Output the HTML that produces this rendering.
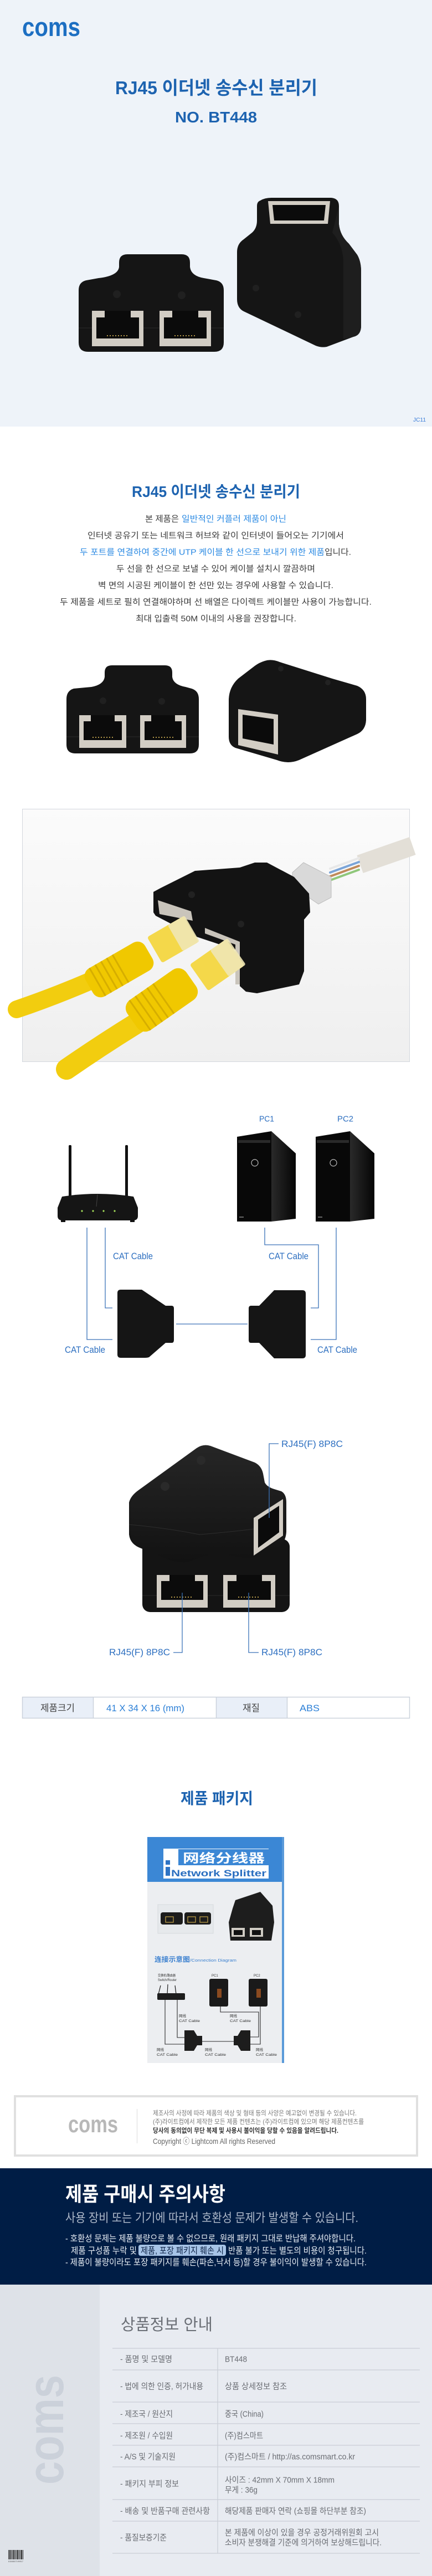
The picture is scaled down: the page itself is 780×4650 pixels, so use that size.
<!DOCTYPE html>
<html><head><meta charset="utf-8">
<style>
html,body{margin:0;padding:0;background:#fff;}
body{width:780px;height:4650px;overflow:hidden;}
svg{display:block;}
.k{font-family:'Liberation Sans','Noto Sans CJK KR',sans-serif;}
.c{font-family:'Liberation Sans','Noto Sans CJK SC',sans-serif;}
</style></head>
<body>
<svg width="780" height="4650" viewBox="0 0 780 4650" xmlns="http://www.w3.org/2000/svg">
<defs>
<linearGradient id="photoBg" x1="0" y1="0" x2="0" y2="1"><stop offset="0" stop-color="#fbfbfb"/><stop offset="1" stop-color="#efefef"/></linearGradient>
<linearGradient id="side" x1="0" y1="0" x2="1" y2="0"><stop offset="0" stop-color="#2a2a2a"/><stop offset="1" stop-color="#050505"/></linearGradient>
<linearGradient id="topU" x1="0" y1="0" x2="0" y2="1"><stop offset="0" stop-color="#262626"/><stop offset="1" stop-color="#121212"/></linearGradient>
</defs>

<!-- ===== SECTION 1 header ===== -->
<rect x="0" y="0" width="780" height="770" fill="#eef3f9"/>
<text class="k" x="40" y="65" font-size="47" font-weight="bold" fill="#1d6fc2" textLength="105" lengthAdjust="spacingAndGlyphs">coms</text>
<text class="k" x="208" y="170" font-size="33" font-weight="bold" fill="#1d63b0" textLength="365" lengthAdjust="spacingAndGlyphs">RJ45 이더넷 송수신 분리기</text>
<text class="k" x="316" y="221" font-size="28" font-weight="bold" fill="#1d63b0" textLength="148" lengthAdjust="spacingAndGlyphs">NO. BT448</text>

<!-- left product -->
<path d="M230,459 L328,459 Q343,459 343,474 L343,482 Q345,498 368,502 L390,506 Q404,509 404,524 L404,618 Q404,635 387,635 L159,635 Q142,635 142,618 L142,524 Q142,509 156,506 L178,502 Q213,498 215,482 L215,474 Q215,459 230,459 Z" fill="#151515"/>
<line x1="142" y1="592" x2="404" y2="592" stroke="#2c2c2c" stroke-width="1"/>
<circle cx="211" cy="531" r="7" fill="#202020"/><circle cx="328" cy="533" r="7" fill="#202020"/>
<g><rect x="166" y="561" width="93" height="64" fill="#d2cdc4"/><rect x="174" y="573" width="77" height="38" fill="#0b0b0b"/><rect x="189" y="561" width="47" height="13" fill="#0b0b0b"/><line x1="193" y1="606" x2="232" y2="606" stroke="#b49848" stroke-width="2" stroke-dasharray="2,3"/></g>
<g><rect x="288" y="561" width="93" height="64" fill="#d2cdc4"/><rect x="296" y="573" width="77" height="38" fill="#0b0b0b"/><rect x="311" y="561" width="47" height="13" fill="#0b0b0b"/><line x1="315" y1="606" x2="354" y2="606" stroke="#b49848" stroke-width="2" stroke-dasharray="2,3"/></g>
<!-- right product -->
<path d="M470,362 Q478,357 490,357 L598,357 Q612,358 612,372 L612,405 Q614,425 630,440 L645,460 Q652,472 652,490 L652,588 Q652,605 638,608 L590,626 Q580,628 570,624 L440,562 Q428,556 428,540 L428,455 Q428,440 440,432 L455,420 Q464,412 464,398 L464,372 Q464,364 470,362 Z" fill="#151515"/>
<path d="M612,372 L612,405 Q614,425 630,440 L645,460 Q652,472 652,490 L652,588 Q652,605 638,608 L620,612 L620,470 Q618,440 600,420 Z" fill="#1e1e1e"/>
<polygon points="484,363 596,363 592,404 488,404" fill="#d2cdc4"/>
<polygon points="492,370 588,370 585,398 495,398" fill="#0b0b0b"/>
<circle cx="462" cy="520" r="6" fill="#202020"/><circle cx="538" cy="568" r="6" fill="#202020"/>
<text class="k" x="746" y="761" font-size="10" fill="#3b7dd8" textLength="23" lengthAdjust="spacingAndGlyphs">JC11</text>

<!-- ===== SECTION 2 ===== -->
<text class="k" x="238" y="897" font-size="28" font-weight="bold" fill="#1d63b0" textLength="304" lengthAdjust="spacingAndGlyphs">RJ45 이더넷 송수신 분리기</text>
<g class="k" font-size="15">
<text x="262" y="941.5" fill="#3a3a3a" textLength="61" lengthAdjust="spacingAndGlyphs">본 제품은</text>
<text x="328" y="941.5" fill="#2b8ae3" textLength="189" lengthAdjust="spacingAndGlyphs">일반적인 커플러 제품이 아닌</text>
<text x="158" y="971.5" fill="#3a3a3a" textLength="463" lengthAdjust="spacingAndGlyphs">인터넷 공유기 또는 네트워크 허브와 같이 인터넷이 들어오는 기기에서</text>
<text x="144" y="1001.5" fill="#2b8ae3" textLength="442" lengthAdjust="spacingAndGlyphs">두 포트를 연결하여 중간에 UTP 케이블 한 선으로 보내기 위한 제품</text>
<text x="586" y="1001.5" fill="#3a3a3a" textLength="48" lengthAdjust="spacingAndGlyphs">입니다.</text>
<text x="210" y="1031.5" fill="#3a3a3a" textLength="359" lengthAdjust="spacingAndGlyphs">두 선을 한 선으로 보낼 수 있어 케이블 설치시 깔끔하며</text>
<text x="177" y="1061.5" fill="#3a3a3a" textLength="425" lengthAdjust="spacingAndGlyphs">벽 면의 시공된 케이블이 한 선만 있는 경우에 사용할 수 있습니다.</text>
<text x="108" y="1091.5" fill="#3a3a3a" textLength="563" lengthAdjust="spacingAndGlyphs">두 제품을 세트로 필히 연결해야하며 선 배열은 다이렉트 케이블만 사용이 가능합니다.</text>
<text x="245" y="1121.5" fill="#3a3a3a" textLength="290" lengthAdjust="spacingAndGlyphs">최대 입출력 50M 이내의 사용을 권장합니다.</text>
</g>
<!-- products photo 2 -->
<path d="M202,1201 L298,1201 Q311,1201 311,1214 L311,1222 Q313,1236 335,1240 L346,1243 Q359,1247 359,1262 L359,1344 Q359,1360 343,1360 L136,1360 Q120,1360 120,1344 L120,1262 Q120,1247 133,1243 L165,1240 Q187,1236 189,1222 L189,1214 Q189,1201 202,1201 Z" fill="#151515"/>
<line x1="120" y1="1330" x2="359" y2="1330" stroke="#2c2c2c"/>
<circle cx="186" cy="1265" r="6" fill="#202020"/><circle cx="292" cy="1266" r="6" fill="#202020"/>
<g><rect x="143" y="1291" width="85" height="59" fill="#d2cdc4"/><rect x="151" y="1302" width="69" height="34" fill="#0b0b0b"/><rect x="164" y="1291" width="43" height="12" fill="#0b0b0b"/><line x1="167" y1="1331" x2="204" y2="1331" stroke="#b49848" stroke-width="2" stroke-dasharray="2,3"/></g>
<g><rect x="253" y="1291" width="83" height="59" fill="#d2cdc4"/><rect x="261" y="1302" width="67" height="34" fill="#0b0b0b"/><rect x="273" y="1291" width="43" height="12" fill="#0b0b0b"/><line x1="276" y1="1331" x2="313" y2="1331" stroke="#b49848" stroke-width="2" stroke-dasharray="2,3"/></g>
<path d="M478,1193 Q490,1189 505,1195 L600,1225 L645,1238 Q661,1245 661,1262 L661,1300 Q660,1318 645,1325 L540,1372 Q520,1380 500,1372 L425,1350 Q413,1345 413,1330 L413,1262 Q414,1240 430,1225 L460,1202 Q468,1196 478,1193 Z" fill="#151515"/>
<polygon points="430,1280 502,1290 502,1362 430,1345" fill="#d2cdc4"/>
<polygon points="438,1290 494,1298 494,1344 438,1333" fill="#0b0b0b"/>
<circle cx="507" cy="1207" r="5" fill="#222"/><circle cx="592" cy="1232" r="5" fill="#222"/>

<!-- ===== cable photo ===== -->
<rect x="40.5" y="1460.5" width="699" height="456" fill="url(#photoBg)" stroke="#d3d7dd" stroke-width="1"/>
<line x1="650" y1="1560" x2="745" y2="1527" stroke="#e3dfd7" stroke-width="34" stroke-linecap="butt"/>
<g stroke-width="4" stroke-linecap="round">
<line x1="596" y1="1575" x2="648" y2="1556" stroke="#7aa4d8"/>
<line x1="596" y1="1582" x2="648" y2="1563" stroke="#c08a5a"/>
<line x1="596" y1="1589" x2="648" y2="1570" stroke="#8fc77a"/>
<line x1="596" y1="1568" x2="648" y2="1549" stroke="#e8e8e8"/>
</g>
<polygon points="528,1575 548,1557 598,1583 598,1620 575,1632 528,1600" fill="#d9d9d9" stroke="#bdbdbd"/>
<polygon points="277,1610 290,1603 352,1572 433,1566 460,1557 482,1557 531,1583 558,1613 560,1647 549,1660 549,1753 540,1777 464,1793 444,1790 433,1780 433,1717 352,1690 281,1653 277,1647" fill="#131313"/>
<polygon points="285,1625 345,1645 348,1662 288,1650" fill="#c9c4bb"/>
<polygon points="370,1675 433,1700 433,1777 425,1777 425,1705 370,1685" fill="#c9c4bb"/>
<circle cx="346" cy="1615" r="6" fill="#222"/><circle cx="435" cy="1668" r="6" fill="#222"/>
<!-- cable A -->
<path d="M30,1822 Q95,1800 165,1770" stroke="#f2cd0f" stroke-width="32" fill="none" stroke-linecap="round"/>
<g transform="translate(215,1750) rotate(-30)"><rect x="-62" y="-29" width="124" height="58" rx="16" fill="#f0c800"/>
<g stroke="#d6ae00" stroke-width="3"><line x1="-45" y1="-29" x2="-45" y2="29"/><line x1="-33" y1="-29" x2="-33" y2="29"/><line x1="-21" y1="-29" x2="-21" y2="29"/><line x1="-9" y1="-29" x2="-9" y2="29"/><line x1="3" y1="-29" x2="3" y2="29"/></g></g>
<g transform="translate(312,1696) rotate(-30)"><rect x="-38" y="-27" width="76" height="54" rx="4" fill="#f4d84a"/><rect x="5" y="-27" width="35" height="54" rx="3" fill="#efe7b5" opacity="0.9"/></g>
<!-- cable B -->
<path d="M120,1930 Q185,1885 250,1845" stroke="#f2cd0f" stroke-width="38" fill="none" stroke-linecap="round"/>
<g transform="translate(292,1805) rotate(-35)"><rect x="-65" y="-33" width="130" height="66" rx="18" fill="#f0c800"/>
<g stroke="#d6ae00" stroke-width="3"><line x1="-48" y1="-33" x2="-48" y2="33"/><line x1="-35" y1="-33" x2="-35" y2="33"/><line x1="-22" y1="-33" x2="-22" y2="33"/><line x1="-9" y1="-33" x2="-9" y2="33"/><line x1="4" y1="-33" x2="4" y2="33"/></g></g>
<g transform="translate(392,1742) rotate(-35)"><rect x="-40" y="-29" width="80" height="58" rx="4" fill="#f4d84a"/><rect x="5" y="-29" width="38" height="58" rx="3" fill="#efe7b5" opacity="0.9"/></g>

<!-- ===== diagram ===== -->
<text class="k" x="468" y="2024.5" font-size="15" fill="#2d6fc0" textLength="27" lengthAdjust="spacingAndGlyphs">PC1</text>
<text class="k" x="609" y="2024.5" font-size="15" fill="#2d6fc0" textLength="29" lengthAdjust="spacingAndGlyphs">PC2</text>
<!-- router -->
<rect x="124" y="2067" width="5" height="95" rx="2" fill="#111"/>
<rect x="226" y="2067" width="5" height="95" rx="2" fill="#111"/>
<path d="M112,2160 Q176,2150 241,2160 L249,2180 L249,2195 Q249,2203 240,2203 L113,2203 Q104,2203 104,2195 L104,2180 Z" fill="#151515"/>
<line x1="176" y1="2156" x2="174" y2="2178" stroke="#444" stroke-width="1"/>
<g fill="#a6e05a"><circle cx="148" cy="2186" r="1.6"/><circle cx="168" cy="2186" r="1.6"/><circle cx="187" cy="2186" r="1.6"/><circle cx="207" cy="2186" r="1.6"/></g>
<rect x="110" y="2202" width="8" height="4" fill="#111"/><rect x="235" y="2202" width="8" height="4" fill="#111"/>
<!-- PCs -->
<g id="pc1">
<polygon points="428,2052 490,2042 490,2205 428,2205" fill="#080808"/>
<polygon points="490,2042 534,2082 534,2200 490,2205" fill="url(#side)"/>
<rect x="430" y="2058" width="58" height="5" fill="#2a2a2a"/>
<circle cx="460" cy="2099" r="6" fill="none" stroke="#bdbdbd" stroke-width="1.2"/>
<rect x="432" y="2196" width="8" height="2" fill="#666"/>
</g>
<g transform="translate(142,0)">
<polygon points="428,2052 490,2042 490,2205 428,2205" fill="#080808"/>
<polygon points="490,2042 534,2082 534,2200 490,2205" fill="url(#side)"/>
<rect x="430" y="2058" width="58" height="5" fill="#2a2a2a"/>
<circle cx="460" cy="2099" r="6" fill="none" stroke="#bdbdbd" stroke-width="1.2"/>
<rect x="432" y="2196" width="8" height="2" fill="#666"/>
</g>
<g fill="none" stroke="#3a72b8" stroke-width="1.3">
<path d="M157,2216 V2418 H203"/>
<path d="M190,2216 V2361 H203"/>
<path d="M478,2216 V2247 H575 V2361 H561"/>
<path d="M607,2216 V2418 H561"/>
<path d="M318,2390 H447"/>
</g>
<path d="M218,2328 H256 L299,2357 H310 Q314,2357 314,2362 V2419 Q314,2424 310,2424 H299 L269,2450 Q266,2451 262,2451 H218 Q212,2451 212,2445 V2334 Q212,2328 218,2328 Z" fill="#151515"/>
<path d="M546,2329 H495 L468,2357 H453 Q449,2357 449,2362 V2419 Q449,2424 453,2424 H468 L495,2452 H546 Q552,2452 552,2446 V2335 Q552,2329 546,2329 Z" fill="#151515"/>
<g class="k" font-size="17" fill="#2d6fc0">
<text x="204" y="2273" textLength="72" lengthAdjust="spacingAndGlyphs">CAT Cable</text>
<text x="485" y="2273" textLength="72" lengthAdjust="spacingAndGlyphs">CAT Cable</text>
<text x="117" y="2442" textLength="73" lengthAdjust="spacingAndGlyphs">CAT Cable</text>
<text x="573" y="2442" textLength="72" lengthAdjust="spacingAndGlyphs">CAT Cable</text>
</g>

<!-- ===== stacked product ===== -->
<rect x="257" y="2778" width="266" height="132" rx="14" fill="#141414"/>
<line x1="257" y1="2880" x2="523" y2="2880" stroke="#2a2a2a"/>
<g><rect x="283" y="2843" width="92" height="59" fill="#d2cdc4"/><rect x="291" y="2854" width="76" height="34" fill="#0b0b0b"/><rect x="306" y="2843" width="46" height="12" fill="#0b0b0b"/><line x1="309" y1="2883" x2="349" y2="2883" stroke="#b49848" stroke-width="2" stroke-dasharray="2,3"/></g>
<g><rect x="403" y="2843" width="94" height="59" fill="#d2cdc4"/><rect x="411" y="2854" width="78" height="34" fill="#0b0b0b"/><rect x="427" y="2843" width="46" height="12" fill="#0b0b0b"/><line x1="430" y1="2883" x2="470" y2="2883" stroke="#b49848" stroke-width="2" stroke-dasharray="2,3"/></g>
<path d="M233,2712 Q236,2700 250,2690 L355,2614 Q367,2606 380,2610 L460,2640 Q472,2646 475,2660 L478,2676 Q482,2684 495,2688 L508,2692 Q517,2697 517,2712 L517,2765 Q516,2785 500,2795 L470,2808 Q455,2814 440,2812 L400,2806 Q380,2805 360,2812 L340,2820 Q320,2822 300,2814 L255,2795 Q235,2788 233,2770 Z" fill="url(#topU)"/>
<path d="M233,2752 Q300,2758 360,2770 Q420,2765 458,2760" stroke="#2e2e2e" fill="none"/>
<circle cx="363" cy="2636" r="8" fill="#2a2a2a"/><circle cx="298" cy="2683" r="8" fill="#2a2a2a"/>
<polygon points="458,2740 511,2706 511,2772 458,2808" fill="#d2cdc4"/>
<polygon points="466,2743 504,2718 504,2766 466,2794" fill="#0b0b0b"/>
<g fill="none" stroke="#3a72b8" stroke-width="1.3">
<path d="M503,2606 H486 V2740"/>
<path d="M313,2983 H329 V2875"/>
<path d="M467,2983 H449 V2875"/>
</g>
<g class="k" font-size="17" fill="#2d6fc0">
<text x="508" y="2612" textLength="111" lengthAdjust="spacingAndGlyphs">RJ45(F) 8P8C</text>
<text x="197" y="2988" textLength="110" lengthAdjust="spacingAndGlyphs">RJ45(F) 8P8C</text>
<text x="472" y="2988" textLength="110" lengthAdjust="spacingAndGlyphs">RJ45(F) 8P8C</text>
</g>

<!-- ===== spec table ===== -->
<rect x="40.5" y="3063.5" width="128" height="38" fill="#e9eff8"/>
<rect x="390.5" y="3063.5" width="128" height="38" fill="#e9eff8"/>
<g fill="none" stroke="#cbd2dc" stroke-width="1.5">
<rect x="40.5" y="3063.5" width="699" height="38"/>
<line x1="168.5" y1="3063" x2="168.5" y2="3102"/>
<line x1="390.5" y1="3063" x2="390.5" y2="3102"/>
<line x1="518.5" y1="3063" x2="518.5" y2="3102"/>
</g>
<g class="k" font-size="17">
<text x="73" y="3089" fill="#444" textLength="62" lengthAdjust="spacingAndGlyphs">제품크기</text>
<text x="192" y="3089" fill="#2b7fd6" textLength="141" lengthAdjust="spacingAndGlyphs">41 X 34 X 16 (mm)</text>
<text x="438" y="3089" fill="#444" textLength="31" lengthAdjust="spacingAndGlyphs">재질</text>
<text x="541" y="3089" fill="#2b7fd6" textLength="36" lengthAdjust="spacingAndGlyphs">ABS</text>
</g>

<text class="k" x="326" y="3256" font-size="28" font-weight="bold" fill="#1d63b0" textLength="131" lengthAdjust="spacingAndGlyphs">제품 패키지</text>

<!-- ===== package ===== -->
<rect x="266" y="3316" width="247" height="408" fill="#eceef1"/>
<rect x="266" y="3316" width="247" height="81" fill="#3b87d5"/>
<rect x="509" y="3316" width="4" height="408" fill="#5a9ad9"/>
<rect x="295" y="3337" width="190" height="54" fill="#ffffff"/>
<rect x="322" y="3338" width="163" height="29" fill="#3b87d5"/>
<text class="c" x="330" y="3362" font-size="22" font-weight="bold" fill="#ffffff" textLength="148" lengthAdjust="spacingAndGlyphs">网络分线器</text>
<rect x="299" y="3358" width="8" height="8" fill="#2f74c4"/>
<rect x="299" y="3370" width="8" height="16" fill="#2f74c4"/>
<text class="k" x="309" y="3387" font-size="17" font-weight="bold" fill="#2b6fc0" textLength="172" lengthAdjust="spacingAndGlyphs">Network Splitter</text>
<rect x="285" y="3438" width="100" height="52" fill="#e6e9ec" stroke="#d6d9dd"/>
<rect x="290" y="3452" width="40" height="22" rx="4" fill="#1c1c1c"/>
<rect x="333" y="3452" width="48" height="22" rx="4" fill="#1c1c1c"/>
<g fill="none" stroke="#c6a64a" stroke-width="1.2"><rect x="299" y="3460" width="14" height="10"/><rect x="339" y="3460" width="14" height="10"/><rect x="361" y="3460" width="14" height="10"/></g>
<path d="M425,3430 L470,3415 L492,3440 L495,3470 L490,3503 L416,3503 L413,3470 L420,3445 Z" fill="#1d1d1d"/>
<rect x="418" y="3480" width="24" height="16" fill="#d0ccc4"/><rect x="451" y="3480" width="24" height="16" fill="#d0ccc4"/>
<rect x="422" y="3484" width="16" height="9" fill="#111"/><rect x="455" y="3484" width="16" height="9" fill="#111"/>
<text class="c" x="279" y="3541" font-size="12" font-weight="bold" fill="#3b80cf" textLength="64" lengthAdjust="spacingAndGlyphs">连接示意图</text>
<text class="k" x="343" y="3541" font-size="7.5" fill="#3b80cf" textLength="84" lengthAdjust="spacingAndGlyphs">/Connection Diagram</text>
<g class="c" font-size="6" fill="#333">
<text x="285" y="3568" textLength="32" lengthAdjust="spacingAndGlyphs">交换机/路由器</text>
<text x="285" y="3576" textLength="34" lengthAdjust="spacingAndGlyphs">Switch/Router</text>
<text x="382" y="3568">PC1</text>
<text x="458" y="3568">PC2</text>
</g>
<g stroke="#1a1a1a" stroke-width="1.2"><line x1="286" y1="3600" x2="290" y2="3584"/><line x1="302" y1="3600" x2="303" y2="3582"/><line x1="318" y1="3600" x2="316" y2="3584"/></g>
<rect x="284" y="3598" width="50" height="12" rx="2" fill="#1d1d1d"/>
<rect x="378" y="3572" width="34" height="50" rx="3" fill="#1a1a1a"/><rect x="392" y="3590" width="8" height="16" fill="#8a4a20"/>
<rect x="449" y="3572" width="34" height="50" rx="3" fill="#1a1a1a"/><rect x="463" y="3590" width="8" height="16" fill="#8a4a20"/>
<g fill="none" stroke="#2a2a2a" stroke-width="1.1">
<path d="M298,3610 V3690 H333"/><path d="M320,3610 V3678 H333"/>
<path d="M398,3622 V3632 H467 V3677 H452"/><path d="M470,3622 V3690 H452"/>
<path d="M365,3685 H422"/>
</g>
<path d="M333,3665 H350 L356,3675 H365 V3692 H356 L350,3702 H333 Z" fill="#1d1d1d"/>
<path d="M452,3665 H435 L429,3675 H422 V3692 H429 L435,3702 H452 Z" fill="#1d1d1d"/>
<g class="c" font-size="6.5" fill="#333">
<text x="323" y="3641">网线</text><text x="323" y="3650" textLength="38" lengthAdjust="spacingAndGlyphs">CAT Cable</text>
<text x="415" y="3641">网线</text><text x="415" y="3650" textLength="38" lengthAdjust="spacingAndGlyphs">CAT Cable</text>
<text x="283" y="3702">网线</text><text x="283" y="3711" textLength="38" lengthAdjust="spacingAndGlyphs">CAT Cable</text>
<text x="370" y="3702">网线</text><text x="370" y="3711" textLength="38" lengthAdjust="spacingAndGlyphs">CAT Cable</text>
<text x="462" y="3702">网线</text><text x="462" y="3711" textLength="38" lengthAdjust="spacingAndGlyphs">CAT Cable</text>
</g>

<!-- ===== footer notice box ===== -->
<rect x="27" y="3784" width="726" height="107" fill="#ffffff" stroke="#e0e0e0" stroke-width="4"/>
<text class="k" x="123" y="3849" font-size="43" font-weight="bold" fill="#b8b8b8" textLength="90" lengthAdjust="spacingAndGlyphs">coms</text>
<line x1="247.5" y1="3807" x2="247.5" y2="3869" stroke="#dddddd"/>
<g class="k" font-size="12">
<text x="276" y="3818.5" fill="#7a7a7a" textLength="368" lengthAdjust="spacingAndGlyphs">제조사의 사정에 따라 제품의 색상 및 형태 등의 사양은 예고없이 변경될 수 있습니다.</text>
<text x="276" y="3834" fill="#7a7a7a" textLength="381" lengthAdjust="spacingAndGlyphs">(주)라이트컴에서 제작한 모든 제품 컨텐츠는 (주)라이트컴에 있으며 해당 제품컨텐츠를</text>
<text x="276" y="3850" fill="#333" font-weight="bold" textLength="335" lengthAdjust="spacingAndGlyphs">당사의 동의없이 무단 복제 및 사용시 불이익을 당할 수 있음을 알려드립니다.</text>
<text x="276" y="3870" fill="#666" font-size="14" textLength="221" lengthAdjust="spacingAndGlyphs">Copyright ⓒ Lightcom All rights Reserved</text>
</g>

<!-- ===== navy caution ===== -->
<rect x="0" y="3914" width="780" height="210" fill="#001d45"/>
<text class="k" x="118" y="3973" font-size="36" font-weight="bold" fill="#ffffff" textLength="289" lengthAdjust="spacingAndGlyphs">제품 구매시 주의사항</text>
<text class="k" x="118" y="4011" font-size="22" fill="#aeb8c9" textLength="529" lengthAdjust="spacingAndGlyphs">사용 장비 또는 기기에 따라서 호환성 문제가 발생할 수 있습니다.</text>
<rect x="250" y="4052" width="158" height="20" rx="4" fill="#a7c4e7"/>
<g class="k" font-size="16" fill="#e8edf4">
<text x="118" y="4046" textLength="524" lengthAdjust="spacingAndGlyphs">- 호환성 문제는 제품 불량으로 볼 수 없으므로, 원래 패키지 그대로 반납해 주셔야합니다.</text>
<text x="128" y="4068" textLength="119" lengthAdjust="spacingAndGlyphs">제품 구성품 누락 및</text>
<text x="254" y="4068" fill="#0d2347" textLength="150" lengthAdjust="spacingAndGlyphs">제품, 포장 패키지 훼손 시</text>
<text x="412" y="4068" textLength="250" lengthAdjust="spacingAndGlyphs">반품 불가 또는 별도의 비용이 청구됩니다.</text>
<text x="118" y="4089" textLength="544" lengthAdjust="spacingAndGlyphs">- 제품이 불량이라도 포장 패키지를 훼손(파손,낙서 등)할 경우 불이익이 발생할 수 있습니다.</text>
</g>

<!-- ===== product info ===== -->
<rect x="0" y="4124" width="180" height="526" fill="#dee2e8"/>
<rect x="180" y="4124" width="600" height="526" fill="#e8ebf1"/>
<text class="k" transform="translate(114,4485) rotate(-90)" font-size="92" font-weight="bold" fill="#cbd1da" textLength="198" lengthAdjust="spacingAndGlyphs">coms</text>
<g fill="#222">
<rect x="15" y="4603" width="1" height="17"/><rect x="17" y="4603" width="2" height="17"/><rect x="20" y="4603" width="1" height="17"/><rect x="22" y="4603" width="1" height="17"/><rect x="24" y="4603" width="2" height="17"/><rect x="27" y="4603" width="1" height="17"/><rect x="29" y="4603" width="1" height="17"/><rect x="31" y="4603" width="2" height="17"/><rect x="34" y="4603" width="1" height="17"/><rect x="36" y="4603" width="1" height="17"/><rect x="38" y="4603" width="2" height="17"/><rect x="41" y="4603" width="1" height="17"/>
</g>
<text class="k" x="15" y="4625" font-size="3.5" fill="#555" textLength="27" lengthAdjust="spacingAndGlyphs">8154867199917</text>
<text class="k" x="218" y="4206" font-size="29" fill="#6b6f76" textLength="166" lengthAdjust="spacingAndGlyphs">상품정보 안내</text>
<g stroke="#c9cdd6" stroke-width="1.2">
<line x1="203" y1="4239" x2="758" y2="4239"/><line x1="203" y1="4278" x2="758" y2="4278"/><line x1="203" y1="4336" x2="758" y2="4336"/><line x1="203" y1="4375" x2="758" y2="4375"/><line x1="203" y1="4414" x2="758" y2="4414"/><line x1="203" y1="4453" x2="758" y2="4453"/><line x1="203" y1="4512" x2="758" y2="4512"/><line x1="203" y1="4551" x2="758" y2="4551"/><line x1="203" y1="4609" x2="758" y2="4609"/>
<line x1="393" y1="4239" x2="393" y2="4609"/>
</g>
<g class="k" font-size="15" fill="#6a6d73">
<text x="217" y="4263.5" textLength="94" lengthAdjust="spacingAndGlyphs">- 품명 및 모델명</text>
<text x="406" y="4263.5" textLength="40" lengthAdjust="spacingAndGlyphs">BT448</text>
<text x="217" y="4312.5" textLength="150" lengthAdjust="spacingAndGlyphs">- 법에 의한 인증, 허가내용</text>
<text x="406" y="4312.5" textLength="112" lengthAdjust="spacingAndGlyphs">상품 상세정보 참조</text>
<text x="217" y="4362.5" textLength="95" lengthAdjust="spacingAndGlyphs">- 제조국 / 원산지</text>
<text x="406" y="4362.5" textLength="70" lengthAdjust="spacingAndGlyphs">중국 (China)</text>
<text x="217" y="4401.5" textLength="95" lengthAdjust="spacingAndGlyphs">- 제조원 / 수입원</text>
<text x="406" y="4401.5" textLength="69" lengthAdjust="spacingAndGlyphs">(주)컴스마트</text>
<text x="217" y="4439.5" textLength="100" lengthAdjust="spacingAndGlyphs">- A/S 및 기술지원</text>
<text x="406" y="4439.5" textLength="235" lengthAdjust="spacingAndGlyphs">(주)컴스마트 / http://as.comsmart.co.kr</text>
<text x="217" y="4488.5" textLength="106" lengthAdjust="spacingAndGlyphs">- 패키지 부피 정보</text>
<text x="406" y="4481.5" textLength="198" lengthAdjust="spacingAndGlyphs">사이즈 : 42mm X 70mm X 18mm</text>
<text x="406" y="4499.5" textLength="59" lengthAdjust="spacingAndGlyphs">무게 : 36g</text>
<text x="217" y="4537.5" textLength="162" lengthAdjust="spacingAndGlyphs">- 배송 및 반품구매 관련사항</text>
<text x="406" y="4537.5" textLength="255" lengthAdjust="spacingAndGlyphs">해당제품 판매자 연락 (쇼핑몰 하단부분 참조)</text>
<text x="217" y="4585.5" textLength="84" lengthAdjust="spacingAndGlyphs">- 품질보증기준</text>
<text x="406" y="4576.5" textLength="278" lengthAdjust="spacingAndGlyphs">본 제품에 이상이 있을 경우 공정거래위원회 고시</text>
<text x="406" y="4594.5" textLength="283" lengthAdjust="spacingAndGlyphs">소비자 분쟁해결 기준에 의거하여 보상해드립니다.</text>
</g>
</svg>
</body></html>
